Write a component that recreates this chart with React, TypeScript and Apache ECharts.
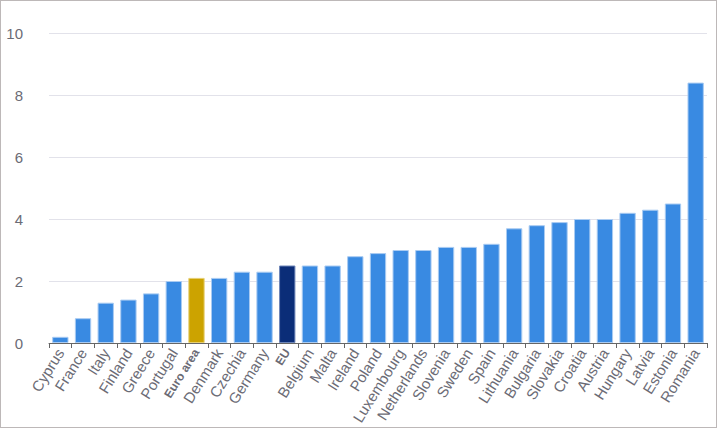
import React, { useEffect, useRef } from "react";
import * as echarts from "echarts";

const categories = ["Cyprus","France","Italy","Finland","Greece","Portugal","Euro area","Denmark","Czechia","Germany","EU","Belgium","Malta","Ireland","Poland","Luxembourg","Netherlands","Slovenia","Sweden","Spain","Lithuania","Bulgaria","Slovakia","Croatia","Austria","Hungary","Latvia","Estonia","Romania"];
const values = [0.2,0.8,1.3,1.4,1.6,2.0,2.1,2.1,2.3,2.3,2.5,2.5,2.5,2.8,2.9,3.0,3.0,3.1,3.1,3.2,3.7,3.8,3.9,4.0,4.0,4.2,4.3,4.5,8.4];
const yTicks = [0, 2, 4, 6, 8, 10];

const BLUE = "#398ae2";
const GOLD = "#cca300";
const NAVY = "#0b2d78";

export default function App() {
  const ref = useRef<HTMLDivElement>(null);
  useEffect(() => {
    if (!ref.current) return;
    const chart = echarts.init(ref.current, undefined, { renderer: "svg" });
    const data = values.map((v, i) => {
      const c = categories[i];
      const color = c === "Euro area" ? GOLD : c === "EU" ? NAVY : BLUE;
      return {
        value: v,
        itemStyle: {
          color,
          borderColor: c === "Euro area" ? "#e6cf73" : c === "EU" ? "#6e86b8" : "#a9cbf2",
          borderWidth: 1,
        },
      };
    });
    chart.setOption({
      animation: false,
      backgroundColor: "#fff",
      grid: { left: 48, right: 9, top: 32, bottom: 84, outerBoundsMode: "none" },
      xAxis: {
        type: "category",
        data: categories,
        axisLine: { lineStyle: { color: "#666666", width: 1 } },
        axisTick: { show: true, length: 5, lineStyle: { color: "#666666", width: 1 } },
        axisLabel: {
          rotate: 58,
          interval: 0,
          hideOverlap: false,
          color: "#6b6b75",
          fontFamily: "Liberation Sans",
          fontSize: 15,
          margin: 7,
          formatter: (v: string) => (v === "Euro area" || v === "EU" ? "{b|" + v + "}" : "{n|" + v + "}"),
          rich: {
            n: { fontFamily: "Liberation Sans", fontSize: 15, color: "#6b6b75" },
            b: { fontWeight: "bold", fontFamily: "Liberation Sans", fontSize: 12, color: "#6b6b75" },
          },
        },
      },
      yAxis: {
        type: "value",
        min: yTicks[0],
        max: yTicks[yTicks.length - 1],
        interval: 2,
        axisLine: { show: false },
        axisTick: { show: false },
        axisLabel: { color: "#6b6b75", fontFamily: "Liberation Sans", fontSize: 15, margin: 26, align: "right" },
        splitLine: { lineStyle: { color: "#e2e2ea", width: 1 } },
      },
      series: [
        {
          type: "bar",
          data,
          barCategoryGap: "28%",
        },
      ],
    });
    return () => chart.dispose();
  }, []);
  return (
    <div
      style={{
        position: "fixed",
        left: 0,
        top: 0,
        width: 717,
        height: 428,
        boxSizing: "border-box",
        border: "1px solid #bdb8b8",
        background: "#fff",
      }}
    >
      <div ref={ref} style={{ width: 715, height: 426 }} />
    </div>
  );
}
